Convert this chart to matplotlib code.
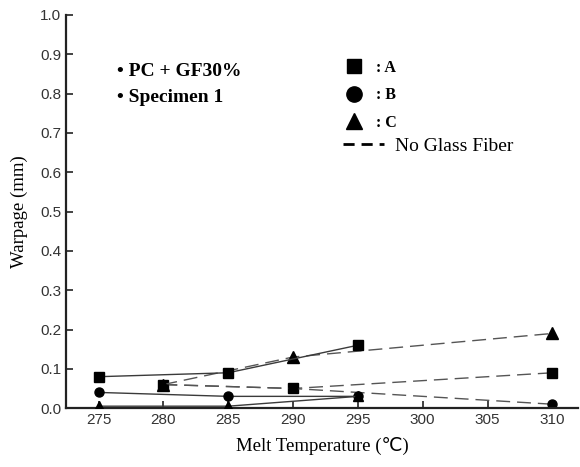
import numpy as np
import matplotlib
matplotlib.use("Agg")
import matplotlib.pyplot as plt
from matplotlib.lines import Line2D

# Data
temp_gf = [275, 285, 295]          # PC + GF30% (solid)
warp_gf_a = [0.08, 0.09, 0.16]
warp_gf_b = [0.04, 0.03, 0.03]
warp_gf_c = [0.005, 0.005, 0.03]

temp_ng = [280, 290, 310]          # no glass fiber (dashed)
warp_ng_a = [0.06, 0.05, 0.09]
warp_ng_b = [0.06, 0.05, 0.01]
warp_ng_c = [0.06, 0.13, 0.19]

xticks = [275, 280, 285, 290, 295, 300, 305, 310]
yticks = np.arange(0.0, 1.01, 0.1)

serif = "Liberation Serif"
sans = "Liberation Sans"

fig = plt.figure(figsize=(5.8, 4.67), dpi=100)
ax = fig.add_axes([0.114, 0.126, 0.883, 0.842])

solid_kw = dict(color="#3a3a3a", lw=1.0, ls="-", mfc="black", mec="black", zorder=3)
dash_kw = dict(color="#555555", lw=1.0, ls=(0, (10, 5)), mfc="black", mec="black", zorder=2)

ax.plot(temp_ng, warp_ng_a, marker="s", ms=6.5, **dash_kw)
ax.plot(temp_ng, warp_ng_b, marker="o", ms=6.5, **dash_kw)
ax.plot(temp_ng, warp_ng_c, marker="^", ms=8, **dash_kw)

ax.plot(temp_gf, warp_gf_a, marker="s", ms=6.5, **solid_kw)
ax.plot(temp_gf, warp_gf_b, marker="o", ms=6.5, **solid_kw)
ax.plot(temp_gf, warp_gf_c, marker="^", ms=7.5, **solid_kw)

ax.set_xlim(272.5, 312)
ax.set_ylim(0.0, 1.0)
ax.set_xticks(xticks)
ax.set_yticks(yticks)
ax.set_yticklabels([f"{v:.1f}" for v in yticks])
ax.tick_params(direction="in", length=5, width=1.2, colors="#222222",
               labelsize=11, labelcolor="#333333")
for lab in ax.get_xticklabels() + ax.get_yticklabels():
    lab.set_fontfamily(sans)

for s in ["top", "right"]:
    ax.spines[s].set_visible(False)
for s in ["left", "bottom"]:
    ax.spines[s].set_linewidth(1.6)
    ax.spines[s].set_color("#222222")

ax.set_xlabel("Melt Temperature (℃)", fontfamily=[serif, "DejaVu Sans"], fontsize=13.5, labelpad=7)
ax.set_ylabel("Warpage (mm)", fontfamily=serif, fontsize=13.5, labelpad=9)

# annotation
ax.text(0.10, 0.855, "• PC + GF30%", transform=ax.transAxes, fontfamily=serif,
        fontweight="bold", fontsize=14, va="center")
ax.text(0.10, 0.789, "• Specimen 1", transform=ax.transAxes, fontfamily=serif,
        fontweight="bold", fontsize=14, va="center")

# legends
mk_handles = [
    Line2D([], [], ls="none", marker="s", ms=10.5, color="black"),
    Line2D([], [], ls="none", marker="o", ms=11, color="black"),
    Line2D([], [], ls="none", marker="^", ms=11, color="black"),
]
leg1 = ax.legend(mk_handles, [": A", ": B", ": C"], loc="upper left",
                 bbox_to_anchor=(0.535, 0.902), frameon=False, handlelength=1.0,
                 handletextpad=0.85, labelspacing=0.72, borderaxespad=0,
                 prop=dict(family=serif, weight="bold", size=11.5))
ax.add_artist(leg1)
dash_handle = [Line2D([], [], color="black", lw=2.0, ls=(0, (4, 2.5)))]
ax.legend(dash_handle, ["No Glass Fiber"], loc="upper left",
          bbox_to_anchor=(0.525, 0.708), frameon=False, handlelength=2.1,
          handletextpad=0.6, borderaxespad=0,
          prop=dict(family=serif, size=14))

fig.savefig("out.png", dpi=100)
